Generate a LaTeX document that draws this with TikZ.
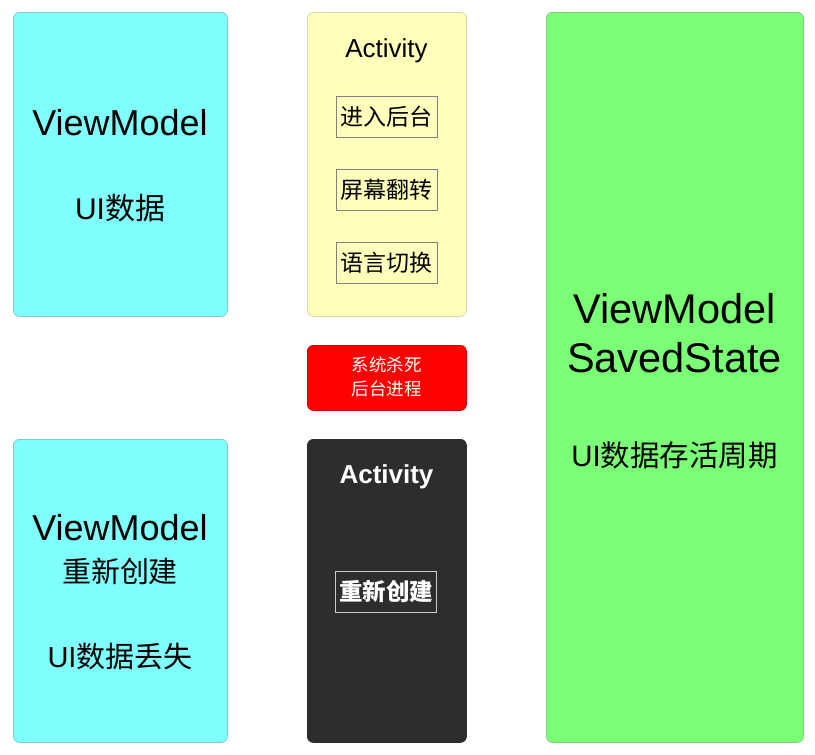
\documentclass[tikz,border=0pt]{standalone}
\usepackage{fontspec}
\setmainfont{Liberation Sans}
\newfontfamily\cjk{Noto Sans CJK SC}
\newcommand{\fsz}[1]{\fontsize{#1}{#1}\selectfont}
\definecolor{vmcyan}{HTML}{80FFFF}
\definecolor{actyellow}{HTML}{FFFFBB}
\definecolor{killred}{HTML}{FF0000}
\definecolor{actdark}{HTML}{2D2D2D}
\definecolor{savedgreen}{HTML}{7BFF77}
\tikzset{
    panel/.style={rounded corners=6pt, anchor=north west, inner sep=0pt, line width=0.8pt},
    tag/.style={draw=#1, line width=0.6pt, minimum width=101, minimum height=41, inner sep=0pt, font=\cjk\fsz{23}},
    lbl/.style={anchor=base, inner sep=0pt}
}

\begin{document}
\begin{tikzpicture}[x=1pt, y=-1pt]
    \useasboundingbox (0,0) rectangle (815,755);
    \node[panel, draw=vmcyan!60!gray, fill=vmcyan, minimum width=214, minimum height=304] (vmTop) at (13,12) {};
    \node[panel, draw=vmcyan!60!gray, fill=vmcyan, minimum width=214, minimum height=303] (vmBottom) at (13,439) {};
    \node[panel, draw=actyellow!70!gray, fill=actyellow, minimum width=159, minimum height=304] (actTop) at (307,12) {};
    \node[panel, draw=killred!85!black, fill=killred, minimum width=159, minimum height=65] (kill) at (307,345) {};
    \node[panel, draw=actdark, fill=actdark, minimum width=159, minimum height=303] (actBottom) at (307,439) {};
    \node[panel, draw=savedgreen!60!gray, fill=savedgreen, minimum width=257, minimum height=730] (saved) at (546,12) {};

    \node[lbl, font=\fsz{36}] (vmTopName) at (120,135) {ViewModel};
    \node[lbl, font=\fsz{30}] (vmTopData) at (120,219) {UI{\cjk 数据}};

    \node[lbl, font=\fsz{26}] (actTopName) at (386.5,57) {Activity};
    \node[tag=gray] (toBackground) at (386.5,116.5) {进入后台};
    \node[tag=gray] (rotate) at (386.5,190) {屏幕翻转};
    \node[tag=gray] (language) at (386.5,263) {语言切换};

    \node[align=center, text=white, font=\cjk\fontsize{17.5}{24}\selectfont, inner sep=0pt] (killText) at (386.5,377) {系统杀死\\后台进程};

    \node[lbl, text=white, font=\bfseries\fsz{26}] (actBottomName) at (386.5,483) {Activity};
    \node[tag=white!60!gray, text=white, font=\cjk\bfseries\fsz{23.5}] (recreateAct) at (386,591.5) {重新创建};

    \node[lbl, font=\fsz{36}] (vmBottomName) at (120,540) {ViewModel};
    \node[lbl, font=\cjk\fsz{29}] (vmRecreate) at (120,582) {重新创建};
    \node[lbl, font=\fsz{29}] (vmLost) at (120,667) {UI{\cjk 数据丢失}};

    \node[lbl, font=\fsz{41.5}] (savedName) at (674.5,323) {ViewModel};
    \node[lbl, font=\fsz{41.5}] (savedState) at (674.5,372) {SavedState};
    \node[lbl, font=\fsz{29.5}] (savedLife) at (674.5,466) {UI{\cjk 数据存活周期}};
\end{tikzpicture}
\end{document}
